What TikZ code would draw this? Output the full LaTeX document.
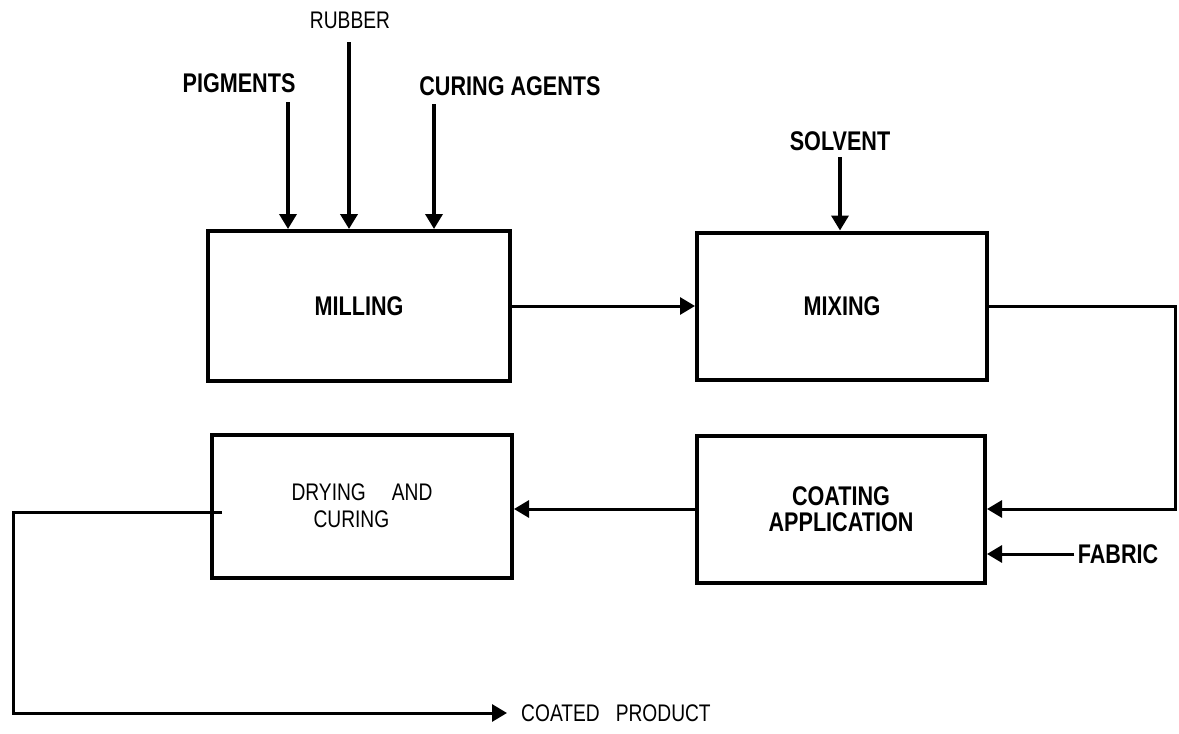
\documentclass[tikz,border=0pt]{standalone}
\usepackage{fontspec}
\usetikzlibrary{arrows.meta}
\newfontfamily\headfont[FakeStretch=0.8]{Liberation Sans}
\newfontfamily\lblfont[FakeStretch=0.8]{Liberation Sans}
\tikzset{
  box/.style={draw,line width=4pt,minimum width=#1,minimum height=147pt,inner sep=0pt},
  head/.style={font=\headfont\bfseries\fontsize{27}{26}\selectfont},
  lbl/.style={font=\lblfont\fontsize{24}{27}\selectfont},
  flow/.style={line width=3pt,-{Triangle[width=17pt,length=15pt]}},
  feed/.style={flow,line width=3.5pt}
}
\begin{document}
\begin{tikzpicture}[x=1pt,y=-1pt]
\useasboundingbox (0,0) rectangle (1179,734);
\node[box=302pt,minimum height=150pt,head] (milling) at (359,306) {MILLING};
\node[box=290pt,head] (mixing) at (842,306) {MIXING};
\node[box=288pt,head,align=center] (coating) at (841,509) {COATING\\APPLICATION};
\node[box=300pt,minimum height=143pt,lbl,align=left] (drying) at (362,506) {DRYING\hspace{26pt}AND\\\hspace*{22pt}CURING};
\node[head] (pigments) at (239,83) {PIGMENTS};
\node[lbl] (rubber) at (350,20) {RUBBER};
\node[head] (curing) at (510,86) {CURING AGENTS};
\node[head] (solvent) at (840,141) {SOLVENT};
\node[head] (fabric) at (1118,554) {FABRIC};
\node[lbl,anchor=west,inner xsep=14pt] (product) at (507,713) {COATED\hspace{16pt}PRODUCT};
\coordinate (pig) at (288,102);
\coordinate (rub) at (349,42);
\coordinate (cur) at (434,104);
\coordinate (sol) at (840,157);
\coordinate (turn) at (1175,306);
\coordinate (dryout) at (222,512);
\coordinate (corner) at (13,512);
\draw[feed] (pig) -- (pig |- milling.north);
\draw[feed,line width=4pt] (rub) -- (rub |- milling.north);
\draw[feed] (cur) -- (cur |- milling.north);
\draw[feed] (sol) -- (sol |- mixing.north);
\draw[flow] (milling.east) -- (mixing.west);
\draw[flow] (mixing.east) -- (turn) |- (coating.east);
\draw[flow] (fabric.west) -- (fabric.west -| coating.east);
\draw[flow] (coating.west) -- (coating.west -| drying.east);
\draw[flow] (dryout) -- (corner) |- (product.west);
\end{tikzpicture}
\end{document}
